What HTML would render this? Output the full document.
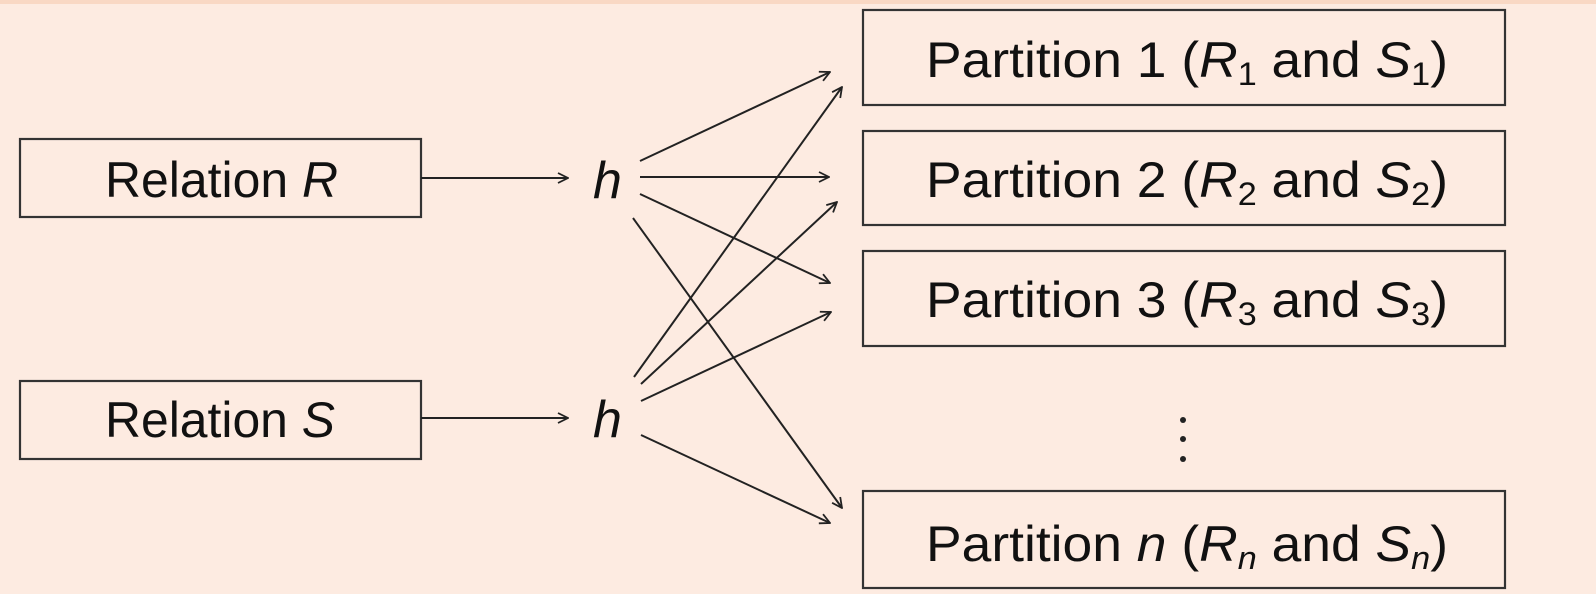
<!DOCTYPE html>
<html><head><meta charset="utf-8"><style>
html,body{margin:0;padding:0;background:#fdebe1;}
svg{display:block;}
text{font-family:"Liberation Sans",sans-serif;fill:#111;}
</style></head><body>
<svg width="1596" height="594" viewBox="0 0 1596 594" xmlns="http://www.w3.org/2000/svg">
<defs>
<marker id="a" viewBox="0 0 12 12" refX="11" refY="6" markerWidth="12" markerHeight="12" markerUnits="userSpaceOnUse" orient="auto">
<path d="M1,1 L11,6 L1,11" fill="none" stroke="#222" stroke-width="1.8"/>
</marker>
</defs>
<rect x="0" y="0" width="1596" height="594" fill="#fdebe1"/>
<rect x="0" y="0" width="1596" height="4" fill="#f9d8c4"/>
<g fill="none" stroke="#333" stroke-width="2.2">
<rect x="20" y="139" width="401" height="78"/>
<rect x="20" y="381" width="401" height="78"/>
<rect x="863" y="10" width="642" height="95"/>
<rect x="863" y="131" width="642" height="94"/>
<rect x="863" y="251" width="642" height="95"/>
<rect x="863" y="491" width="642" height="97"/>
</g>
<g stroke="#222" stroke-width="2" marker-end="url(#a)">
<line x1="421" y1="178" x2="568" y2="178"/>
<line x1="421" y1="418" x2="568" y2="418"/>
<line x1="640" y1="161" x2="830" y2="72"/>
<line x1="640" y1="177" x2="829" y2="177"/>
<line x1="640" y1="194" x2="830" y2="283"/>
<line x1="633" y1="218" x2="842" y2="508"/>
<line x1="634" y1="377" x2="842" y2="87"/>
<line x1="641" y1="384" x2="837" y2="202"/>
<line x1="641" y1="401" x2="831" y2="312"/>
<line x1="641" y1="435" x2="830" y2="523"/>
</g>
<text x="105" y="197" font-size="50" textLength="233" lengthAdjust="spacingAndGlyphs">Relation <tspan font-style="italic">R</tspan></text>
<text x="105" y="437" font-size="50" textLength="230" lengthAdjust="spacingAndGlyphs">Relation <tspan font-style="italic">S</tspan></text>
<text x="593" y="198" font-size="52" font-style="italic">h</text>
<text x="593" y="437" font-size="52" font-style="italic">h</text>
<text x="926" y="77" font-size="50" textLength="522" lengthAdjust="spacingAndGlyphs">Partition 1 (<tspan font-style="italic">R</tspan><tspan font-size="32" dy="8">1</tspan><tspan dy="-8"> and </tspan><tspan font-style="italic">S</tspan><tspan font-size="32" dy="8">1</tspan><tspan dy="-8">)</tspan></text>
<text x="926" y="197" font-size="50" textLength="522" lengthAdjust="spacingAndGlyphs">Partition 2 (<tspan font-style="italic">R</tspan><tspan font-size="32" dy="8">2</tspan><tspan dy="-8"> and </tspan><tspan font-style="italic">S</tspan><tspan font-size="32" dy="8">2</tspan><tspan dy="-8">)</tspan></text>
<text x="926" y="317" font-size="50" textLength="522" lengthAdjust="spacingAndGlyphs">Partition 3 (<tspan font-style="italic">R</tspan><tspan font-size="32" dy="8">3</tspan><tspan dy="-8"> and </tspan><tspan font-style="italic">S</tspan><tspan font-size="32" dy="8">3</tspan><tspan dy="-8">)</tspan></text>
<text x="926" y="561" font-size="50" textLength="522" lengthAdjust="spacingAndGlyphs">Partition <tspan font-style="italic">n</tspan> (<tspan font-style="italic">R</tspan><tspan font-size="32" font-style="italic" dy="8">n</tspan><tspan dy="-8"> and </tspan><tspan font-style="italic">S</tspan><tspan font-size="32" font-style="italic" dy="8">n</tspan><tspan dy="-8">)</tspan></text>
<g fill="#222">
<circle cx="1183" cy="420" r="3"/>
<circle cx="1183" cy="439" r="3"/>
<circle cx="1183" cy="459" r="3"/>
</g>
</svg>
</body></html>
